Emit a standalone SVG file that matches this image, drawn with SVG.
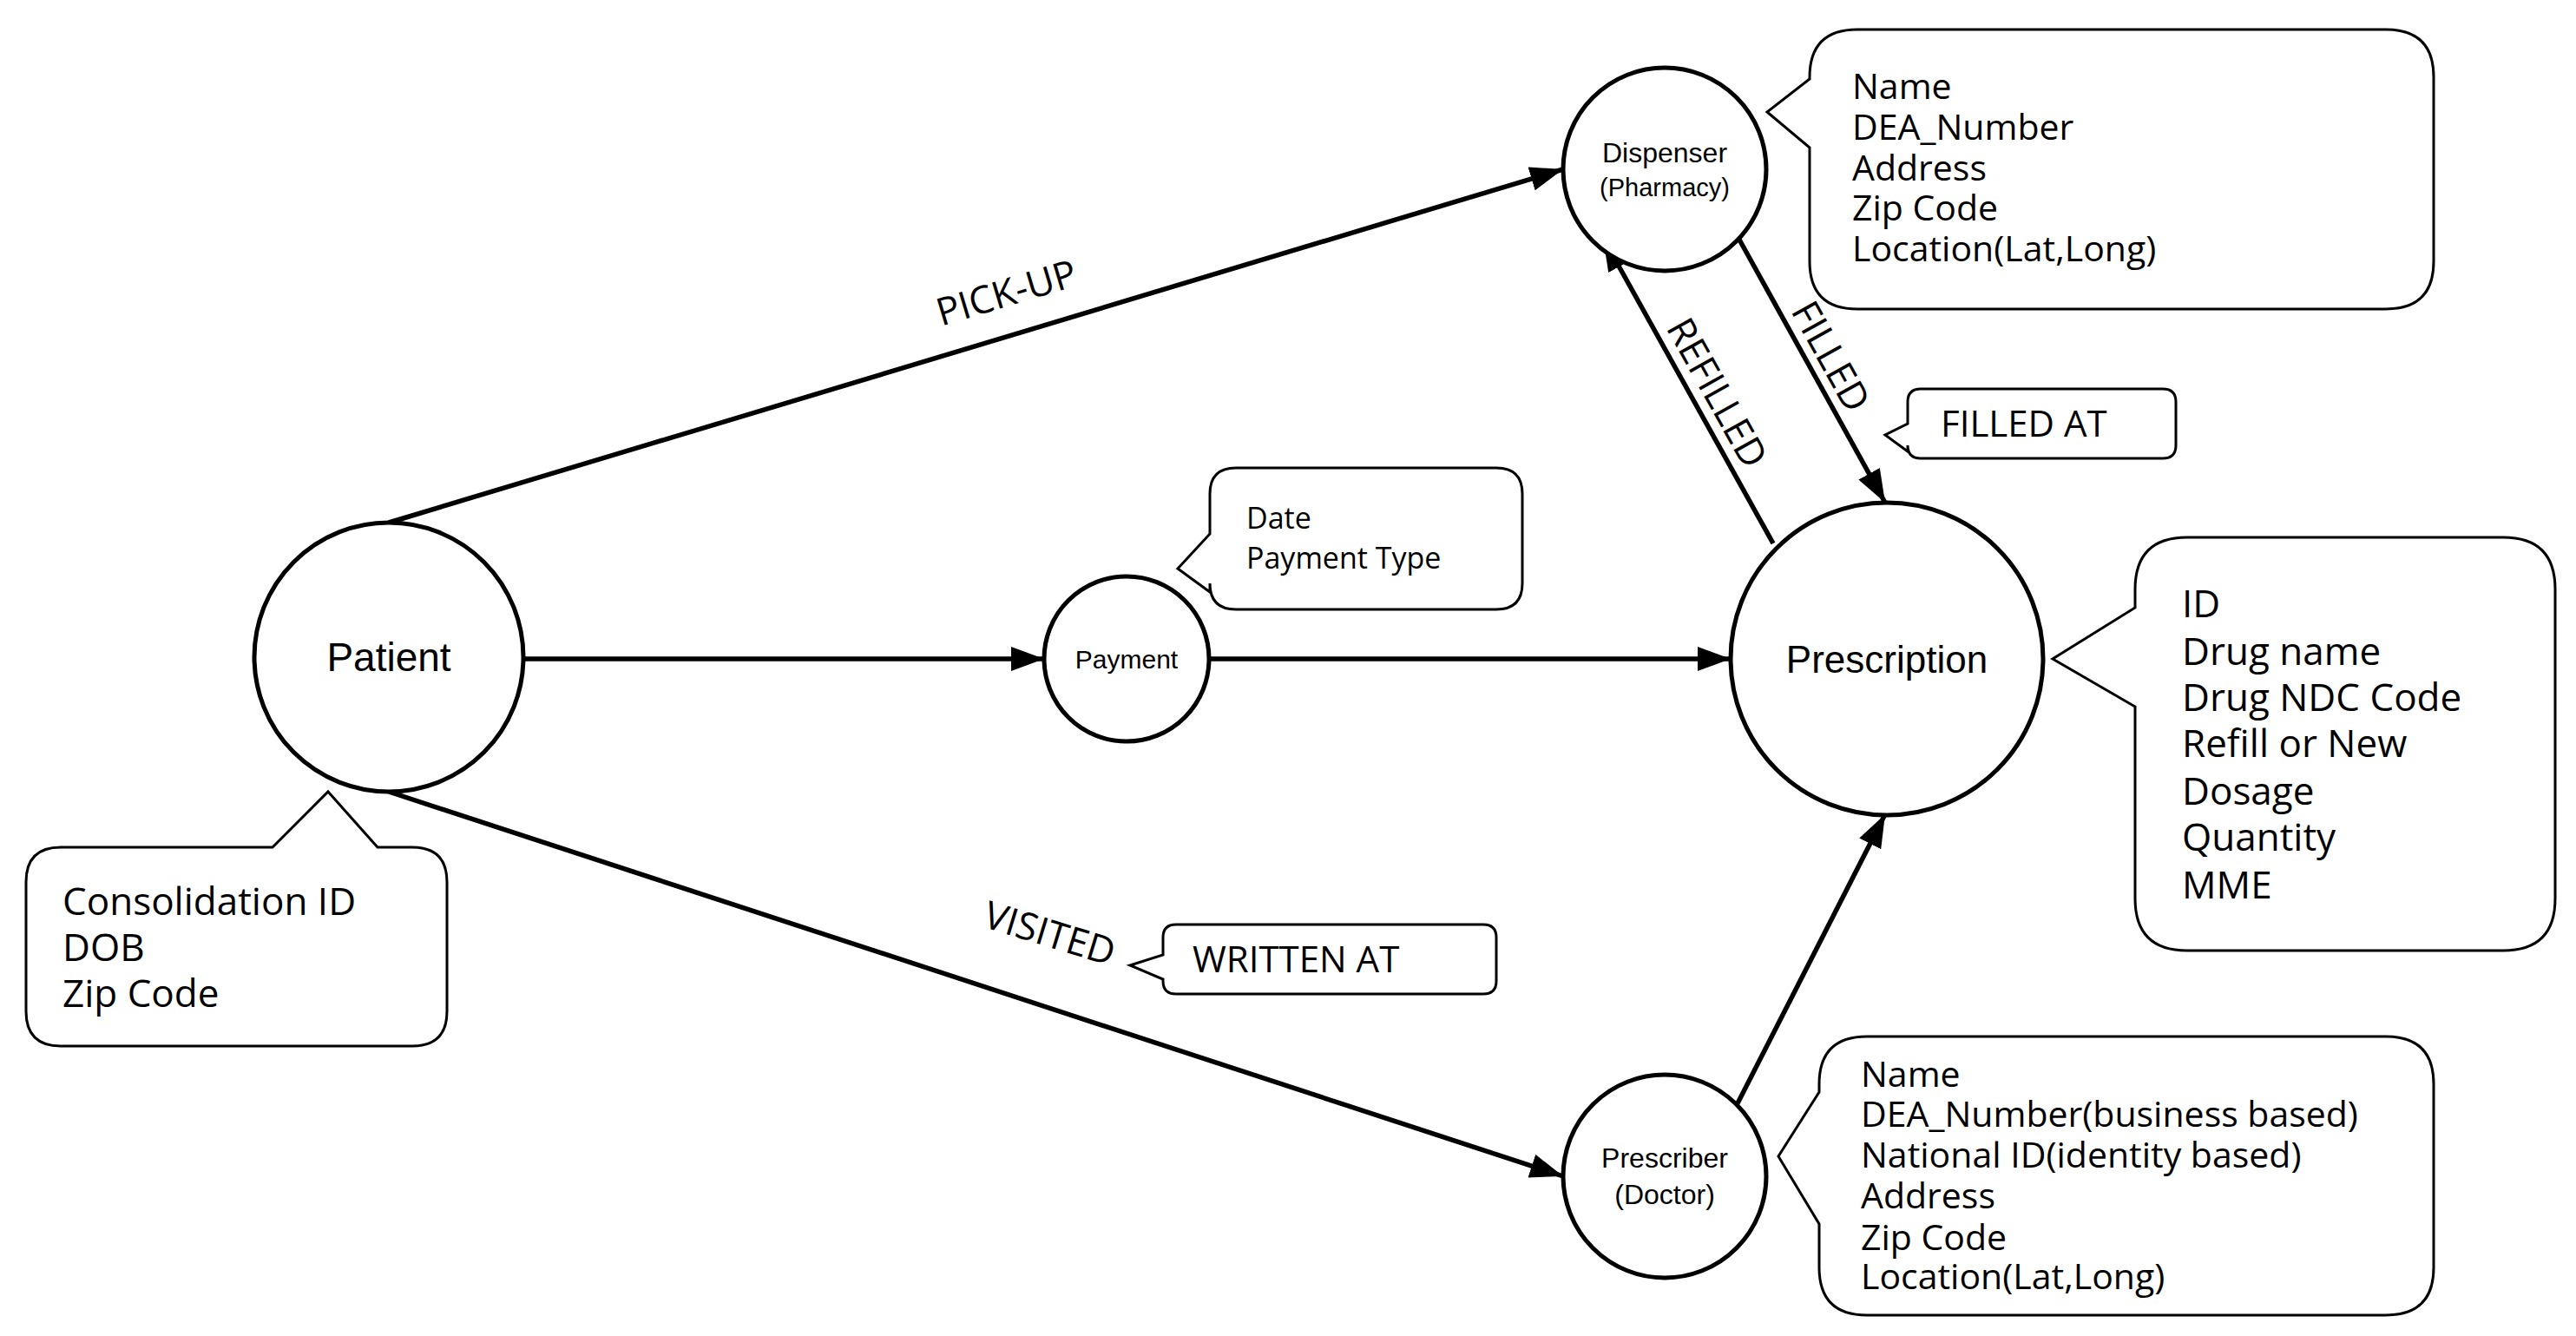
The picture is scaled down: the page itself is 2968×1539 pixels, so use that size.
<svg xmlns="http://www.w3.org/2000/svg" width="2968" height="1539" viewBox="0 0 2968 1539">
<style>
.n{fill:#fff;stroke:#000;stroke-width:5}
.c{fill:#fff;stroke:#000;stroke-width:3}
.e{stroke:#000;stroke-width:5.5;fill:none}
.nl{font-family:"Liberation Sans",Arial,sans-serif;fill:#000;text-anchor:middle}
.t{font-family:"Open Sans","Noto Sans",sans-serif;fill:#000}
</style>
<defs>
<marker id="a" markerUnits="userSpaceOnUse" markerWidth="40" markerHeight="30" refX="38" refY="14" orient="auto"><path d="M0,0 L38,14 L0,28 Z" fill="#000"/></marker>
</defs>
<rect width="2968" height="1539" fill="#fff"/>
<g id="connectors">
<line class="e" x1="448" y1="602" x2="1801" y2="195" marker-end="url(#a)"/>
<line class="e" x1="605" y1="759" x2="1203" y2="759" marker-end="url(#a)"/>
<line class="e" x1="1393" y1="759" x2="1994" y2="759" marker-end="url(#a)"/>
<line class="e" x1="448" y1="912" x2="1801" y2="1355" marker-end="url(#a)"/>
<line class="e" x1="2002" y1="1271" x2="2172" y2="938" marker-end="url(#a)"/>
<line class="e" x1="2004" y1="276" x2="2172" y2="579" marker-end="url(#a)"/>
<line class="e" x1="2043" y1="626" x2="1847" y2="274" marker-end="url(#a)"/>
<text class="t" font-size="44" text-anchor="middle" transform="translate(1164,352) rotate(-16.7)">PICK-UP</text>
<text class="t" font-size="44" text-anchor="middle" transform="translate(1205,1090) rotate(17)">VISITED</text>
<text class="t" font-size="44" text-anchor="middle" transform="translate(1965,460) rotate(60.8)">REFILLED</text>
<text class="t" font-size="44" text-anchor="middle" transform="translate(2096,418) rotate(61)">FILLED</text>
</g>
<g id="patient">
<circle class="n" cx="448" cy="757" r="155"/>
<text class="nl" x="448" y="773" font-size="46">Patient</text>
</g>
<g id="patient-attrs">
<path class="c" d="M70,976 H314 L378,912 L435,976 H475 Q515,976 515,1016 V1165 Q515,1205 475,1205 H70 Q30,1205 30,1165 V1016 Q30,976 70,976 Z"/>
<text class="t" x="72" y="1054" font-size="44">Consolidation ID</text>
<text class="t" x="72" y="1107" font-size="44">DOB</text>
<text class="t" x="72" y="1160" font-size="44">Zip Code</text>
</g>
<g id="payment">
<circle class="n" cx="1298" cy="759" r="95"/>
<text class="nl" x="1298" y="770" font-size="30">Payment</text>
</g>
<g id="payment-attrs">
<path class="c" d="M1424,539 H1724 Q1754,539 1754,569 V672 Q1754,702 1724,702 H1424 Q1394,702 1394,672 V682 L1357,655 L1394,615 V569 Q1394,539 1424,539 Z"/>
<text class="t" x="1436" y="609" font-size="34">Date</text>
<text class="t" x="1436" y="655" font-size="34">Payment Type</text>
</g>
<g id="prescription">
<circle class="n" cx="2174" cy="759" r="180"/>
<text class="nl" x="2174" y="775" font-size="44">Prescription</text>
</g>
<g id="prescription-attrs">
<path class="c" d="M2520,619 H2884 Q2944,619 2944,679 V1035 Q2944,1095 2884,1095 H2520 Q2460,1095 2460,1035 V814 L2365,759 L2460,700 V679 Q2460,619 2520,619 Z"/>
<text class="t" x="2514" y="711" font-size="44">ID</text>
<text class="t" x="2514" y="766" font-size="44">Drug name</text>
<text class="t" x="2514" y="819" font-size="44">Drug NDC Code</text>
<text class="t" x="2514" y="872" font-size="44">Refill or New</text>
<text class="t" x="2514" y="927" font-size="44">Dosage</text>
<text class="t" x="2514" y="980" font-size="44">Quantity</text>
<text class="t" x="2514" y="1035" font-size="44">MME</text>
</g>
<g id="dispenser">
<circle class="n" cx="1918" cy="195" r="117"/>
<text class="nl" x="1918" y="187" font-size="32">Dispenser</text>
<text class="nl" x="1918" y="226" font-size="29">(Pharmacy)</text>
</g>
<g id="dispenser-attrs">
<path class="c" d="M2140,34 H2749 Q2804,34 2804,89 V301 Q2804,356 2749,356 H2140 Q2085,356 2085,301 V170 L2036,129 L2085,91 V89 Q2085,34 2140,34 Z"/>
<text class="t" x="2134" y="114" font-size="41">Name</text>
<text class="t" x="2134" y="161" font-size="41">DEA_Number</text>
<text class="t" x="2134" y="208" font-size="41">Address</text>
<text class="t" x="2134" y="254" font-size="41">Zip Code</text>
<text class="t" x="2134" y="301" font-size="41">Location(Lat,Long)</text>
</g>
<g id="filled-at">
<path class="c" d="M2213,448 H2492 Q2507,448 2507,463 V513 Q2507,528 2492,528 H2213 Q2198,528 2198,513 V520 L2172,501 L2198,488 V463 Q2198,448 2213,448 Z"/>
<text class="t" x="2236" y="503" font-size="42">FILLED AT</text>
</g>
<g id="prescriber">
<circle class="n" cx="1918" cy="1355" r="117"/>
<text class="nl" x="1918" y="1345" font-size="32">Prescriber</text>
<text class="nl" x="1918" y="1387" font-size="32">(Doctor)</text>
</g>
<g id="prescriber-attrs">
<path class="c" d="M2151,1194 H2749 Q2804,1194 2804,1249 V1460 Q2804,1515 2749,1515 H2151 Q2096,1515 2096,1460 V1410 L2049,1332 L2096,1258 V1249 Q2096,1194 2151,1194 Z"/>
<text class="t" x="2144" y="1252" font-size="41">Name</text>
<text class="t" x="2144" y="1298" font-size="41">DEA_Number(business based)</text>
<text class="t" x="2144" y="1345" font-size="41">National ID(identity based)</text>
<text class="t" x="2144" y="1392" font-size="41">Address</text>
<text class="t" x="2144" y="1440" font-size="41">Zip Code</text>
<text class="t" x="2144" y="1485" font-size="41">Location(Lat,Long)</text>
</g>
<g id="written-at">
<path class="c" d="M1355,1065 H1709 Q1724,1065 1724,1080 V1130 Q1724,1145 1709,1145 H1355 Q1340,1145 1340,1130 V1128 L1302,1112 L1340,1100 V1080 Q1340,1065 1355,1065 Z"/>
<text class="t" x="1374" y="1120" font-size="42">WRITTEN AT</text>
</g>
</svg>
